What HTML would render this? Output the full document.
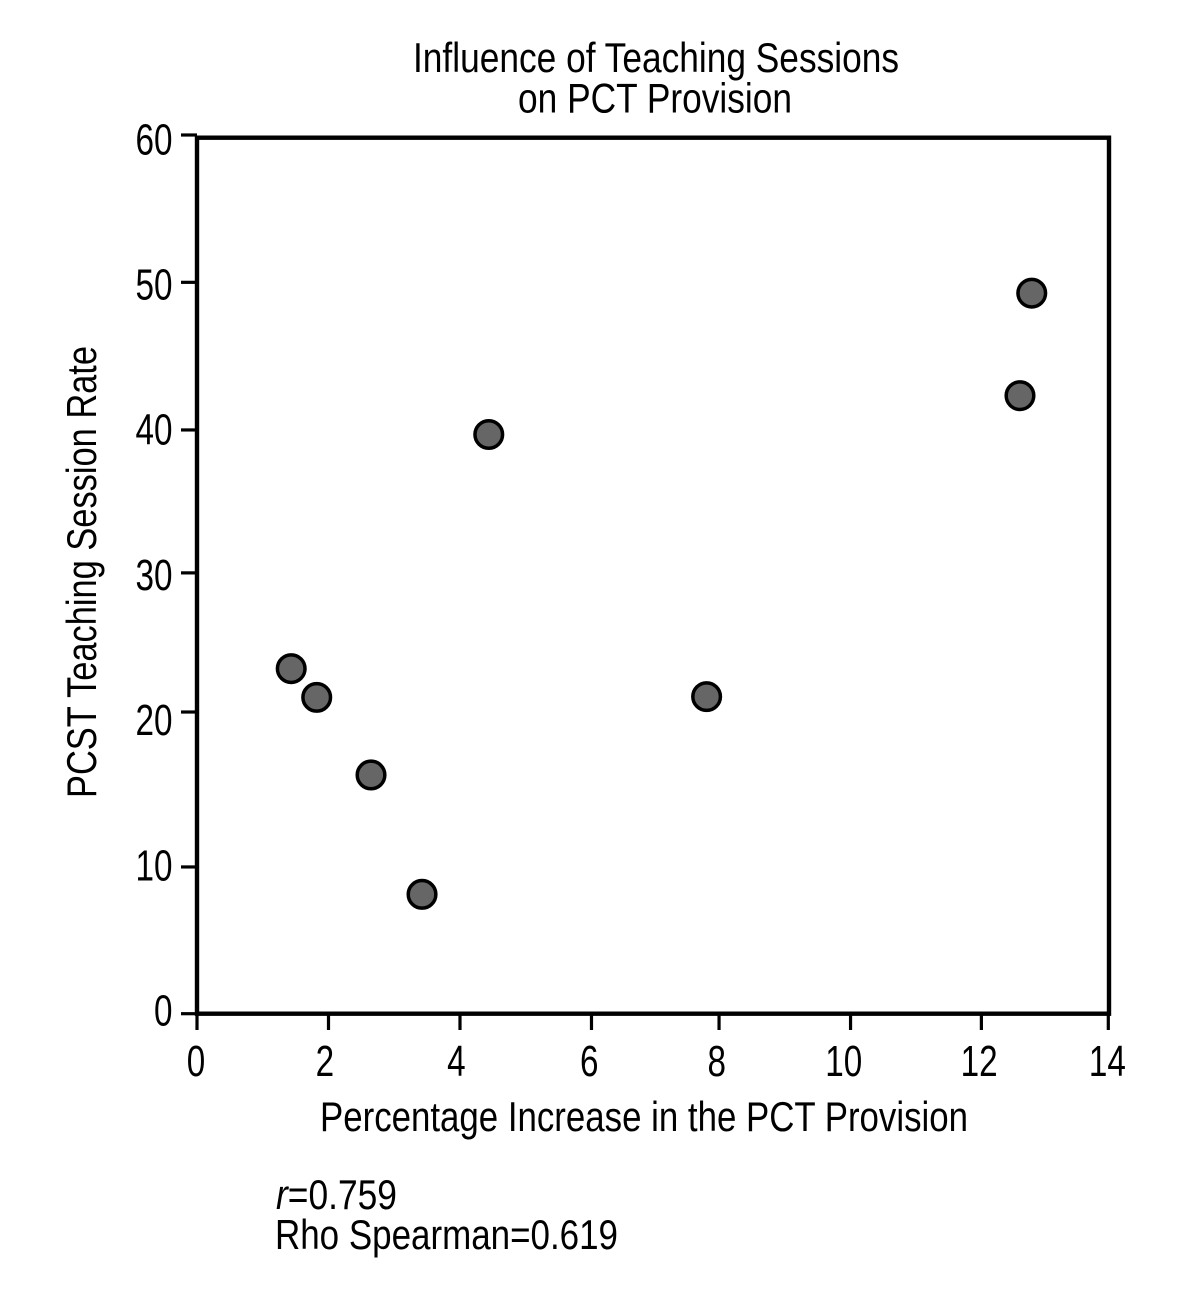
<!DOCTYPE html>
<html lang="en">
<head>
<meta charset="utf-8">
<title>Influence of Teaching Sessions on PCT Provision</title>
<style>
html,body{margin:0;padding:0;background:#fff;}
svg{display:block;}
text{font-family:"Liberation Sans",sans-serif;fill:#000;}
</style>
</head>
<body>
<svg id="chart" xmlns="http://www.w3.org/2000/svg" width="1190" height="1304" viewBox="0 0 1190 1304">
  <rect x="0" y="0" width="1190" height="1304" fill="#fff"/>
  <g id="x-ticks"></g>
  <g id="y-ticks"></g>
  <rect x="197" y="137.7" width="912" height="876" fill="none" stroke="#000" stroke-width="4.4"/>
  <g id="points"></g>
  <text x="413" y="72" font-size="41.5" textLength="486" lengthAdjust="spacingAndGlyphs">Influence of Teaching Sessions</text>
  <text x="518" y="112.5" font-size="41.5" textLength="274" lengthAdjust="spacingAndGlyphs">on PCT Provision</text>
  <text x="320" y="1131" font-size="41.5" textLength="648" lengthAdjust="spacingAndGlyphs">Percentage Increase in the PCT Provision</text>
  <text transform="translate(96,798) rotate(-90)" font-size="41.5" textLength="452" lengthAdjust="spacingAndGlyphs">PCST Teaching Session Rate</text>
  <text x="276" y="1209" font-size="41.5" textLength="121" lengthAdjust="spacingAndGlyphs"><tspan font-style="italic">r</tspan>=0.759</text>
  <text x="275" y="1249" font-size="41.5" textLength="343" lengthAdjust="spacingAndGlyphs">Rho Spearman=0.619</text>
</svg>
<script>
// Values.
const pointX = [1.44, 1.83, 2.66, 3.44, 4.46, 7.79, 12.58, 12.76];
const pointY = [23.56, 21.6, 16.3, 8.15, 39.55, 21.65, 42.2, 49.2];

const xTickLabels = ["0", "2", "4", "6", "8", "10", "12", "14"];
// Labels and tick marks in the reference are slightly unevenly placed; these are where they land.
const xLabelValues = [0, 1.98, 4, 6.04, 8, 9.95, 12.03, 14];
const xTickValues = [0, 2.01, 4.02, 6.03, 7.98, 9.99, 11.99, 13.93];

const yTickLabels = ["0", "10", "20", "30", "40", "50", "60"];
const yLabelValues = [0, 10, 20, 30, 40, 50, 60];
const yTickValues = [0, 10.02, 20.6, 30.1, 39.86, 49.94, 60];

const NS = "http://www.w3.org/2000/svg";
function xScale(v) { return 197 + v * 65.42; }
function yScale(v) { return 1013.7 - v * 14.645; }
function xLabelScale(v) { return 196 + v * 65.1; }
function yLabelBaseline(v) { return 1025.5 - v * 14.52; }

const xGroup = document.getElementById("x-ticks");
const yGroup = document.getElementById("y-ticks");
const pointGroup = document.getElementById("points");

function makeTick(x1, y1, x2, y2) {
  const l = document.createElementNS(NS, "line");
  l.setAttribute("x1", x1);
  l.setAttribute("y1", y1);
  l.setAttribute("x2", x2);
  l.setAttribute("y2", y2);
  l.setAttribute("stroke", "#000");
  l.setAttribute("stroke-width", "3.2");
  return l;
}

function makeLabel(str, fontSize) {
  const t = document.createElementNS(NS, "text");
  t.textContent = str;
  t.setAttribute("font-size", fontSize);
  t.setAttribute("textLength", str.length * 18.5);
  t.setAttribute("lengthAdjust", "spacingAndGlyphs");
  return t;
}

xTickValues.forEach(function (v, i) {
  const px = xScale(v);
  const tick = makeTick(px, 1013.7, px, 1030);
  
  
  xGroup.appendChild(tick);

  const label = makeLabel(xTickLabels[i], 43.5);
  
  
  label.setAttribute("x", xLabelScale(xLabelValues[i]) - xTickLabels[i].length * 9.25);
  label.setAttribute("y", 1076);
  xGroup.appendChild(label);
});

yTickValues.forEach(function (v, i) {
  const py = yScale(v);
  const tick = makeTick(181, py, 197, py);
  
  
  yGroup.appendChild(tick);

  const label = makeLabel(yTickLabels[i], 43.5);
  
  
  label.setAttribute("x", 172.5 - yTickLabels[i].length * 18.5);
  label.setAttribute("y", yLabelBaseline(yLabelValues[i]));
  yGroup.appendChild(label);
});

pointX.forEach(function (v, i) {
  const c = document.createElementNS(NS, "circle");
  
  
  c.setAttribute("cx", xScale(v));
  c.setAttribute("cy", yScale(pointY[i]));
  c.setAttribute("r", "13.8");
  c.setAttribute("fill", "#666");
  c.setAttribute("stroke", "#000");
  c.setAttribute("stroke-width", "3.5");
  pointGroup.appendChild(c);
});
</script>
</body>
</html>
